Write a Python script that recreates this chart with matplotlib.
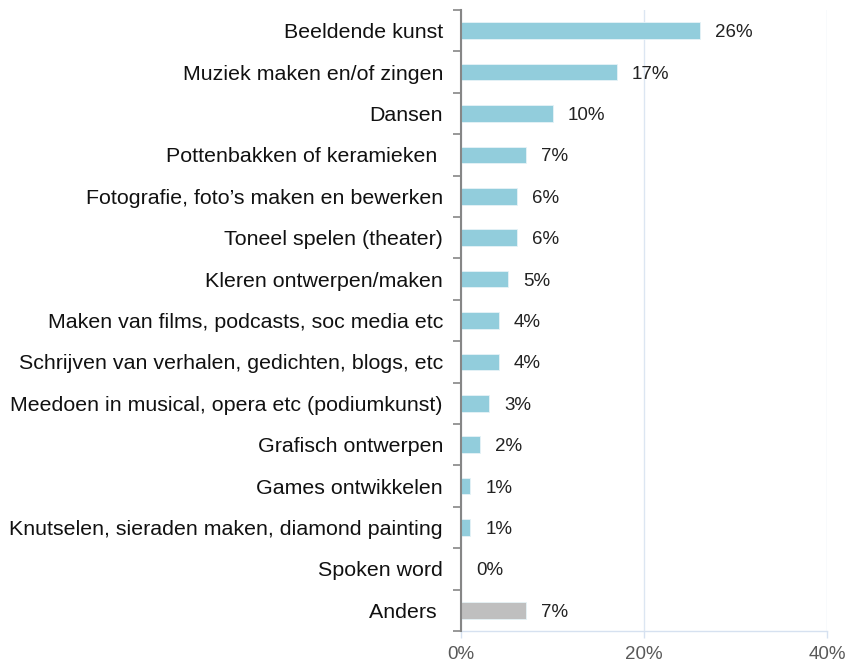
import matplotlib
matplotlib.use("Agg")
import matplotlib.pyplot as plt
import numpy as np

categories = [
    "Beeldende kunst",
    "Muziek maken en/of zingen",
    "Dansen",
    "Pottenbakken of keramieken ",
    "Fotografie, foto\u2019s maken en bewerken",
    "Toneel spelen (theater)",
    "Kleren ontwerpen/maken",
    "Maken van films, podcasts, soc media etc",
    "Schrijven van verhalen, gedichten, blogs, etc",
    "Meedoen in musical, opera etc (podiumkunst)",
    "Grafisch ontwerpen",
    "Games ontwikkelen",
    "Knutselen, sieraden maken, diamond painting",
    "Spoken word",
    "Anders ",
]
values = [26.1, 17.0, 10.0, 7.1, 6.1, 6.1, 5.1, 4.1, 4.1, 3.1, 2.1, 1.0, 1.0, 0.0, 7.1]
labels = ["26%", "17%", "10%", "7%", "6%", "6%", "5%", "4%", "4%", "3%", "2%", "1%", "1%", "0%", "7%"]
xticks = [0, 20, 40]
xticklabels = ["0%", "20%", "40%"]

plt.rcParams['font.family'] = ['Liberation Sans', 'DejaVu Sans']

fig = plt.figure(figsize=(8.5, 6.64), dpi=100)
ax = fig.add_axes([461/850, 1-631/664, (827-461)/850, (631-10)/664])

n = len(categories)
y = np.arange(n)
colors = ["#92CDDC"] * (n - 1) + ["#BFBFBF"]
ax.barh(y, values, height=0.4, color=colors, edgecolor="#E6F3F7", linewidth=0.6, zorder=3)
for yi, v, lab in zip(y, values, labels):
    ax.annotate(lab, (v, yi), xytext=(11, -1.5), textcoords="offset points",
                va="center", ha="left", fontsize=13.5, color="#222222")

ax.set_ylim(n - 0.5, -0.5)
ax.set_xlim(0, 40)
ax.set_yticks(y)
ax.set_yticklabels(categories, fontsize=15.4, color="#111111")
ax.tick_params(axis="y", which="major", length=0, pad=13)
ax.set_yticks(np.arange(-0.5, n, 1), minor=True)
ax.tick_params(axis="y", which="minor", length=6, width=1.2, color="#868686", direction="out")

ax.set_xticks(xticks)
ax.set_xticklabels(xticklabels, fontsize=13.5, color="#595959")
ax.tick_params(axis="x", length=5, width=1, color="#D6E1F0", pad=6)
ax.grid(axis="x", color="#DCE6F2", linewidth=1, zorder=0)

for s in ["top", "right"]:
    ax.spines[s].set_visible(False)
ax.spines["left"].set_color("#868686")
ax.spines["left"].set_linewidth(1.5)
ax.spines["left"].set_zorder(4)
ax.spines["bottom"].set_color("#D6E1F0")
ax.spines["bottom"].set_linewidth(1)

fig.savefig("out.png", dpi=100)
